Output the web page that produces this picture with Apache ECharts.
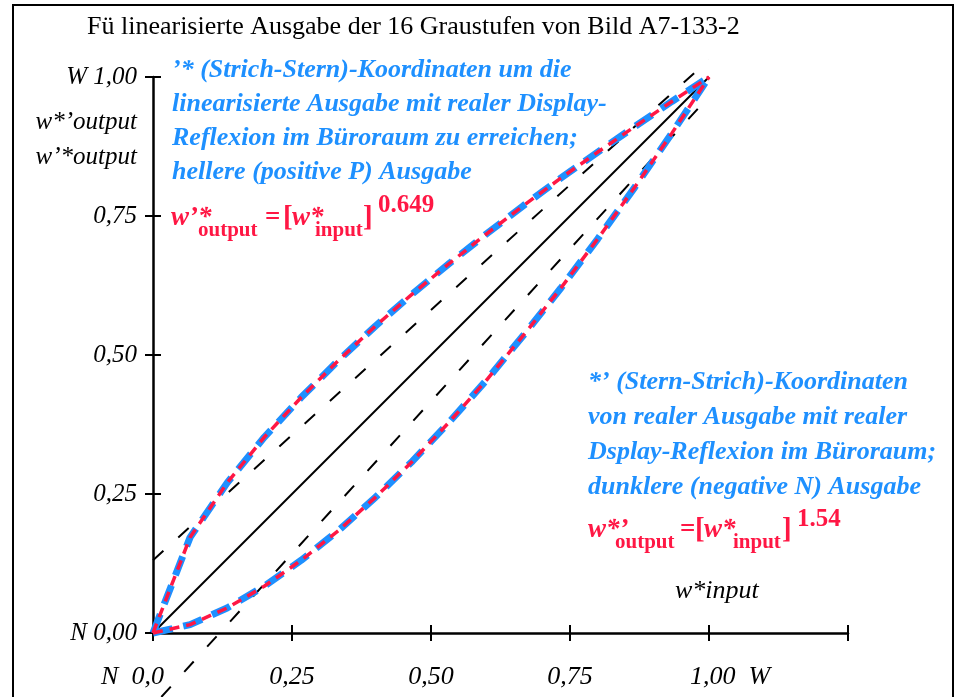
<!DOCTYPE html>
<html><head><meta charset="utf-8">
<script src="https://cdn.jsdelivr.net/npm/echarts@6/dist/echarts.min.js"></script>
<style>html,body{margin:0;padding:0;background:#fff}#c{width:955px;height:697px}</style>
</head><body><div id="c"></div>
<script>
// 16 gray levels: input and read-off outputs
const grayInput   = [0, 0.0667, 0.1333, 0.2, 0.2667, 0.3333, 0.4, 0.4667, 0.5333, 0.6, 0.6667, 0.7333, 0.8, 0.8667, 0.9333, 1.0];
const brighterOut = [0, 0.172, 0.270, 0.352, 0.424, 0.490, 0.552, 0.610, 0.665, 0.718, 0.769, 0.818, 0.865, 0.911, 0.956, 1.0];
const darkerOut   = [0, 0.015, 0.045, 0.084, 0.131, 0.184, 0.244, 0.309, 0.380, 0.455, 0.536, 0.620, 0.709, 0.802, 0.899, 1.0];
const diagonal    = [[0, 0], [1, 1]];
const upperGuide  = [[0, 0.131], [1.0, 1.031]];
const lowerGuide  = [[0.015, -0.115], [0.99, 0.954]];
const xTickValues = [0, 0.25, 0.5, 0.75, 1.0, 1.25];
const xTickLabels = ['N  0,0', '0,25', '0,50', '0,75', '1,00  W', ''];
const yTickValues = [0, 0.25, 0.5, 0.75, 1.0];
const yTickLabels = ['N 0,00', '0,25', '0,50', '0,75', 'W 1,00'];

const SERIF = '"Liberation Serif","Times New Roman",serif';
const BLUE = '#1e90ff';
const RED = '#ff1744';

function lbl(arr, vals, v) {
  for (let i = 0; i < vals.length; i++) if (Math.abs(vals[i] - v) < 1e-6) return arr[i];
  return '';
}
function T(text, x, y, font, color, align, vAlign) {
  return { type: 'text', silent: true, z: 100, x: x, y: y,
    style: { text: text, font: font, fill: color, align: align || 'left', verticalAlign: vAlign || 'middle' } };
}
const fBI = s => 'italic bold ' + s + 'px ' + SERIF;
const fB = s => 'bold ' + s + 'px ' + SERIF;
const fI = s => 'italic ' + s + 'px ' + SERIF;

function formula(x0, base, parts) {
  // parts: [text, dx, fontSize, italic, dy(baseline offset)]
  return parts.map(p => T(p[0], x0 + p[1], base + p[4] - 0.3 * p[2], (p[3] ? fBI : fB)(p[2]), RED));
}

const pts = ys => grayInput.map((x, i) => [x, ys[i]]);

const xFont = { fontFamily: SERIF, fontStyle: 'italic', fontSize: 26, color: '#000' };
const yFont = { fontFamily: SERIF, fontStyle: 'italic', fontSize: 25, color: '#000' };

const option = {
  animation: false,
  grid: { left: 153, right: 107, top: 77, bottom: 64 },
  xAxis: [{
    type: 'value', min: 0, max: 1.25, interval: 0.25,
    axisLine: { onZero: false, lineStyle: { color: '#000', width: 2.5 } },
    axisTick: { length: 8, lineStyle: { color: '#000', width: 2 } },
    splitLine: { show: false },
    axisLabel: Object.assign({}, xFont, {
      margin: 31,
      formatter: v => {
        const s = lbl(xTickLabels, xTickValues, v);
        if (Math.abs(v) < 1e-6) return '{l|' + s + '}';
        if (Math.abs(v - 1) < 1e-6) return '{r|' + s + '}';
        return s;
      },
      rich: {
        l: Object.assign({}, xFont, { padding: [0, 41, 0, 0] }),
        r: Object.assign({}, xFont, { padding: [0, 0, 0, 42] })
      }
    })
  }, {
    type: 'value', min: 0, max: 1.25, interval: 0.25, position: 'bottom',
    axisLine: { show: false, onZero: false },
    axisTick: { inside: true, length: 8, lineStyle: { color: '#000', width: 2 } },
    axisLabel: { show: false }, splitLine: { show: false }
  }],
  yAxis: [{
    type: 'value', min: 0, max: 1, interval: 0.25,
    axisLine: { onZero: false, lineStyle: { color: '#000', width: 2.5 } },
    axisTick: { length: 8, lineStyle: { color: '#000', width: 2 } },
    splitLine: { show: false },
    axisLabel: Object.assign({}, yFont, { margin: 16, formatter: v => lbl(yTickLabels, yTickValues, v) })
  }, {
    type: 'value', min: 0, max: 1, interval: 0.25, position: 'left',
    axisLine: { show: false, onZero: false },
    axisTick: { inside: true, length: 8, lineStyle: { color: '#000', width: 2 } },
    axisLabel: { show: false }, splitLine: { show: false }
  }],
  series: [
    { type: 'line', data: diagonal, symbol: 'none', clip: false, lineStyle: { color: '#000', width: 2 } },
    { type: 'line', data: upperGuide, symbol: 'none', clip: false, lineStyle: { color: '#000', width: 2, type: [14, 20] } },
    { type: 'line', data: lowerGuide, symbol: 'none', clip: false, lineStyle: { color: '#000', width: 2, type: [14, 20] } },
    { type: 'line', data: pts(brighterOut), symbol: 'none', clip: false, lineStyle: { color: BLUE, width: 7, type: [20, 11] } },
    { type: 'line', data: pts(darkerOut), symbol: 'none', clip: false, lineStyle: { color: BLUE, width: 7, type: [20, 11] } },
    { type: 'line', data: pts(brighterOut), symbol: 'none', clip: false, lineStyle: { color: RED, width: 3.5, type: [10, 7] } },
    { type: 'line', data: pts(darkerOut), symbol: 'none', clip: false, lineStyle: { color: RED, width: 3.5, type: [10, 7] } }
  ],
  graphic: [
    { type: 'rect', silent: true, shape: { x: 13, y: 5, width: 940, height: 710 }, style: { fill: 'none', stroke: '#000', lineWidth: 2 } },
    T('Fü linearisierte Ausgabe der 16 Graustufen von Bild A7-133-2', 87, 27, '26px ' + SERIF, '#000'),
    T('w*’output', 137, 122, fI(25), '#000', 'right'),
    T('w’*output', 137, 157, fI(25), '#000', 'right'),
    T('’* (Strich-Stern)-Koordinaten um die', 172, 70, fBI(26), BLUE),
    T('linearisierte Ausgabe mit realer Display-', 172, 104, fBI(26), BLUE),
    T('Reflexion im Büroraum zu erreichen;', 172, 138, fBI(26), BLUE),
    T('hellere (positive P) Ausgabe', 172, 172, fBI(26), BLUE),
    T('*’ (Stern-Strich)-Koordinaten', 588, 382, fBI(26), BLUE),
    T('von realer Ausgabe mit realer', 588, 417, fBI(26), BLUE),
    T('Dsplay-Reflexion im Büroraum;', 588, 452, fBI(26), BLUE),
    T('dunklere (negative N) Ausgabe', 588, 487, fBI(26), BLUE),
    T('w*input', 675, 591, fI(26), '#000')
  ].concat(formula(171, 226, [
    ['w’*', 0, 27, true, 0], ['output', 27, 21, false, 11], ['=', 94, 27, false, 0], ['[', 112, 29, false, 1],
    ['w*', 121, 27, true, 0], ['input', 144, 21, false, 11], [']', 192, 29, false, 1], ['0.649', 207, 25, false, -13]
  ])).concat(formula(588, 538, [
    ['w*’', 0, 27, true, 0], ['output', 27, 21, false, 11], ['=', 92, 27, false, 0], ['[', 107, 29, false, 1],
    ['w*', 116, 27, true, 0], ['input', 145, 21, false, 11], [']', 194, 29, false, 1], ['1.54', 209, 25, false, -11]
  ]))
};
echarts.init(document.getElementById('c')).setOption(option);
</script></body></html>
